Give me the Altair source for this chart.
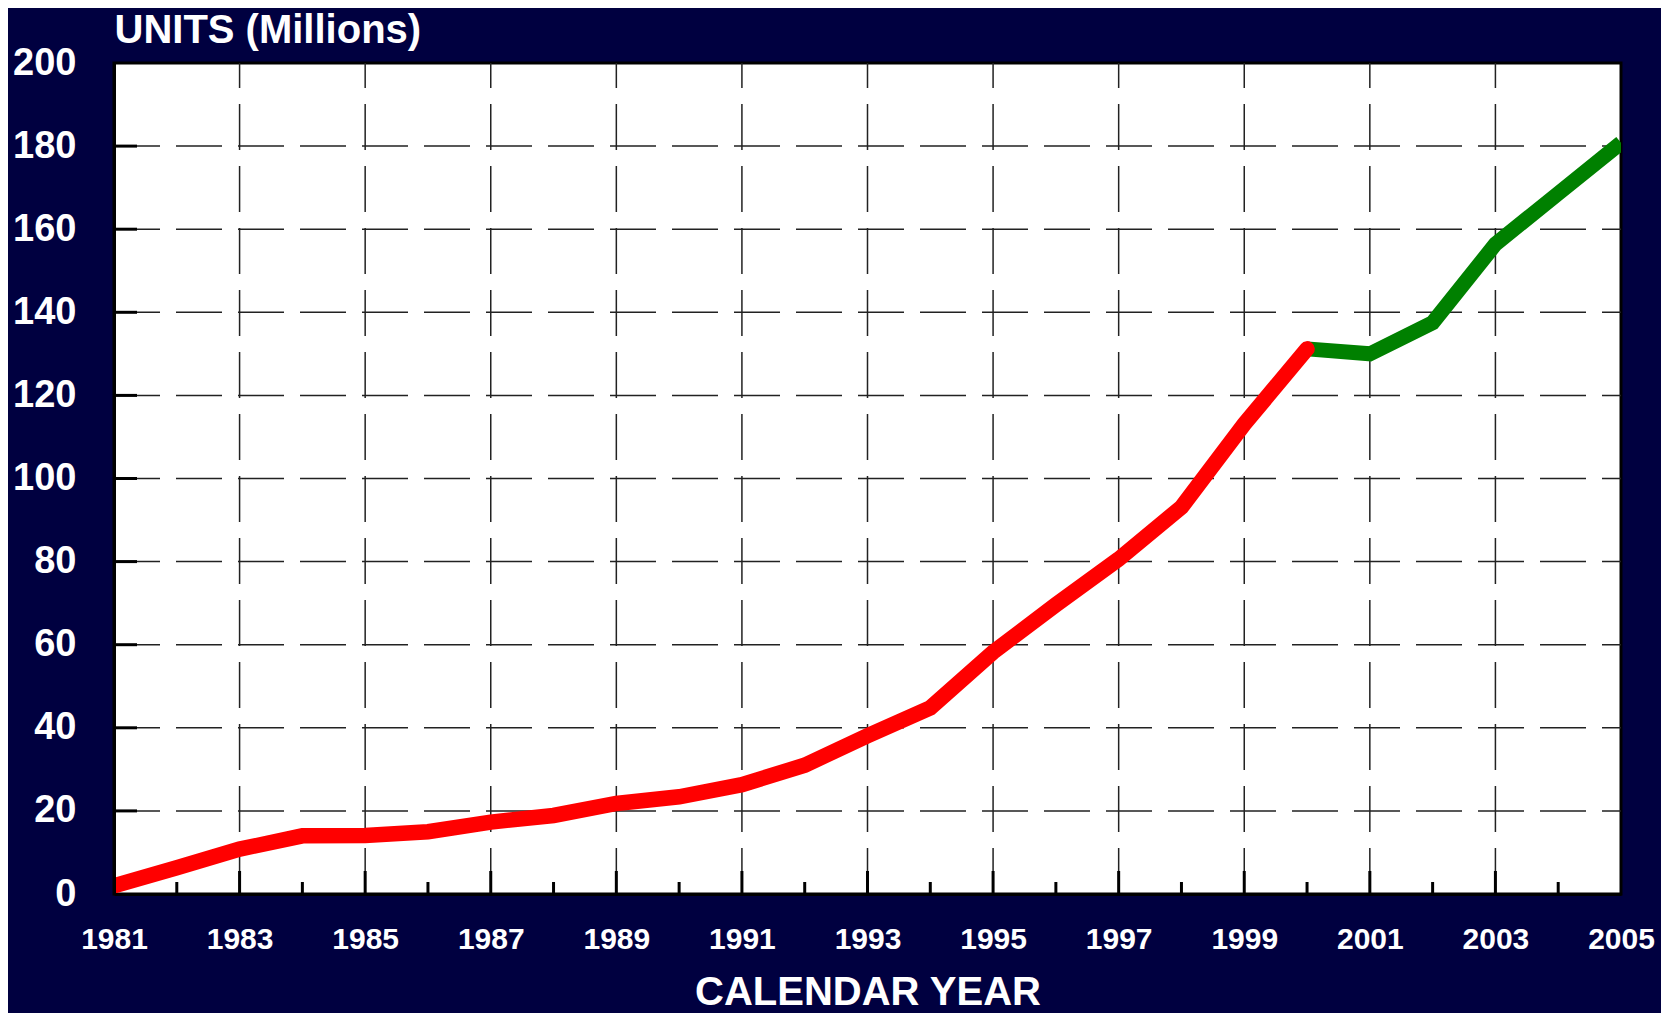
import altair as alt
import pandas as pd

# ---- data ----
years_red = list(range(1981, 2001))
units_red = [2.0, 6.3, 10.8, 14.0, 14.1, 15.0, 17.3, 18.9, 21.8, 23.4,
             26.3, 31.0, 38.1, 44.8, 58.2, 69.6, 80.6, 93.1, 113.1, 131.2]
years_green = [2000, 2001, 2002, 2003, 2004, 2005]
units_green = [131.2, 130.0, 137.5, 156.4, 168.6, 180.8]

x_label_years = list(range(1981, 2006, 2))
y_label_values = list(range(0, 201, 20))
grid_years = list(range(1983, 2005, 2))
grid_units = list(range(20, 200, 20))
major_tick_years = list(range(1983, 2005, 2))
minor_tick_years = list(range(1982, 2005, 2))

W, H = 1507, 831
NAVY = "#000040"
FONT = "Liberation Sans"

xscale = alt.Scale(domain=[1981, 2005], nice=False, zero=False)
yscale = alt.Scale(domain=[0, 200], nice=False, zero=True)

x_axis = alt.Axis(
    values=x_label_years, format="d", ticks=False, tickSize=0, grid=False,
    domain=True, domainColor="black", domainWidth=3,
    labelFont=FONT, labelFontSize=30, labelFontWeight="bold", labelColor="white",
    labelPadding=54, labelBaseline="alphabetic", labelFlush=False, labelOverlap=False,
    title="CALENDAR YEAR", titleFont=FONT, titleFontSize=40, titleFontWeight="bold",
    titleColor="white", titleX=W / 2, titleY=110, titleAlign="center",
    titleBaseline="alphabetic", zindex=1,
)
y_axis = alt.Axis(
    values=y_label_values, format="d", ticks=False, tickSize=0, grid=False,
    domain=True, domainColor="black", domainWidth=3,
    labelFont=FONT, labelFontSize=38, labelFontWeight="bold", labelColor="white",
    labelPadding=38, labelFlush=False, labelOverlap=False,
    title="UNITS (Millions)", titleFont=FONT, titleFontSize=40, titleFontWeight="bold",
    titleColor="white", titleAngle=0, titleX=0, titleY=-21, titleAlign="left",
    titleBaseline="alphabetic", zindex=1,
)

X = alt.X("year:Q", scale=xscale, axis=x_axis)
Y = alt.Y("units:Q", scale=yscale, axis=y_axis)

df_red = pd.DataFrame({"year": years_red, "units": units_red})
df_green = pd.DataFrame({"year": years_green, "units": units_green})

grid_style = dict(color="#222222", strokeWidth=1.5, strokeDash=[46, 16])

hgrid = alt.Chart(pd.DataFrame({"units": grid_units})).mark_rule(**grid_style).encode(
    y=Y, x=alt.value(0), x2=alt.value(W),
)
vgrid = alt.Chart(pd.DataFrame({"year": grid_years})).mark_rule(**grid_style).encode(
    x=X, y=alt.value(H), y2=alt.value(0),
)

green = alt.Chart(df_green).mark_line(
    color="#008000", strokeWidth=15, strokeCap="butt", strokeJoin="miter", clip=True
).encode(x=X, y=Y)
red = alt.Chart(df_red).mark_line(
    color="#ff0000", strokeWidth=15.5, strokeCap="round", strokeJoin="miter", clip=True
).encode(x=X, y=Y)

major = alt.Chart(pd.DataFrame({"year": major_tick_years})).mark_rule(
    color="black", strokeWidth=3
).encode(x=X, y=alt.value(H), y2=alt.value(H - 23))
minor = alt.Chart(pd.DataFrame({"year": minor_tick_years})).mark_rule(
    color="black", strokeWidth=3
).encode(x=X, y=alt.value(H), y2=alt.value(H - 12))
yticks = alt.Chart(pd.DataFrame({"units": grid_units})).mark_rule(
    color="black", strokeWidth=3
).encode(y=Y, x=alt.value(0), x2=alt.value(23))

chart = alt.layer(hgrid, vgrid, green, red, major, minor, yticks).properties(
    width=W, height=H,
    background=NAVY,
    padding={"left": 106, "top": 55, "right": 40, "bottom": 119},
    autosize=alt.AutoSizeParams(type="none"),
).configure_view(stroke="black", strokeWidth=3, fill="white")

chart.save("out.html", embed_options={"renderer": "svg", "actions": False})
